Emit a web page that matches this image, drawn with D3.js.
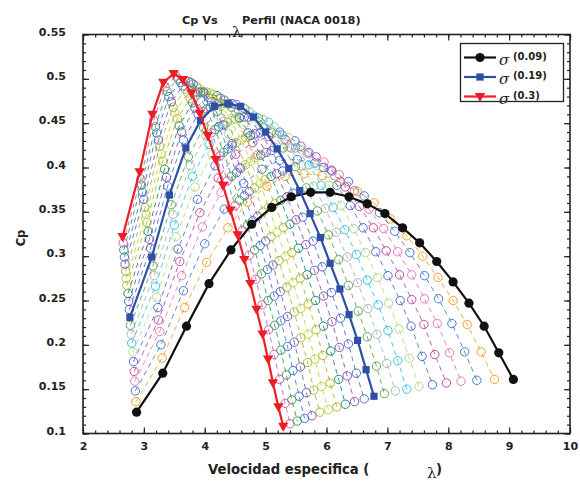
<!DOCTYPE html>
<html><head><meta charset="utf-8">
<script src="https://cdn.jsdelivr.net/npm/d3@7"></script>
<style>body{margin:0;background:#fff}</style>
</head><body>
<svg id="c" width="580" height="484"></svg>
<script>
// ---- data: lambda (tip speed ratio) and Cp for each solidity sigma ----
const sigmaValues = [0.09,0.10,0.11,0.12,0.13,0.14,0.15,0.16,0.17,0.18,0.19,0.20,0.21,0.22,0.23,0.24,0.25,0.26,0.27,0.28,0.29,0.30];
const lam_09 = [2.88,3.31,3.70,4.07,4.43,4.77,5.10,5.42,5.74,6.06,6.37,6.67,6.96,7.25,7.53,7.81,8.08,8.34,8.59,8.83,9.07];
const cp_09  = [0.124,0.168,0.221,0.269,0.307,0.336,0.355,0.367,0.372,0.372,0.367,0.359,0.348,0.332,0.315,0.294,0.271,0.247,0.221,0.191,0.161];
const lam_10 = [2.87,3.30,3.67,4.03,4.38,4.70,5.02,5.32,5.63,5.93,6.22,6.51,6.78,7.05,7.32,7.58,7.83,8.08,8.31,8.54,8.76];
const cp_10  = [0.136,0.185,0.242,0.293,0.332,0.361,0.379,0.390,0.393,0.391,0.384,0.373,0.360,0.342,0.323,0.300,0.276,0.250,0.223,0.192,0.161];
const lam_11 = [2.86,3.28,3.65,4.00,4.32,4.64,4.94,5.23,5.52,5.81,6.09,6.36,6.62,6.87,7.12,7.37,7.61,7.84,8.06,8.27,8.47];
const cp_11  = [0.148,0.200,0.261,0.314,0.353,0.382,0.398,0.408,0.409,0.405,0.396,0.384,0.368,0.349,0.328,0.304,0.278,0.252,0.224,0.192,0.160];
const lam_12 = [2.85,3.26,3.62,3.96,4.27,4.57,4.86,5.14,5.42,5.69,5.96,6.21,6.46,6.70,6.94,7.17,7.40,7.61,7.82,8.02,8.21];
const cp_12  = [0.159,0.215,0.278,0.333,0.372,0.400,0.414,0.423,0.422,0.416,0.406,0.392,0.374,0.353,0.331,0.305,0.279,0.252,0.224,0.191,0.159];
const lam_13 = [2.84,3.24,3.59,3.92,4.22,4.51,4.79,5.05,5.32,5.58,5.83,6.08,6.31,6.54,6.77,6.98,7.20,7.40,7.60,7.78,7.97];
const cp_13  = [0.170,0.228,0.294,0.349,0.388,0.415,0.428,0.435,0.432,0.424,0.412,0.397,0.378,0.356,0.332,0.306,0.279,0.251,0.223,0.189,0.157];
const lam_14 = [2.83,3.23,3.56,3.88,4.17,4.45,4.71,4.97,5.23,5.48,5.71,5.95,6.17,6.39,6.60,6.81,7.01,7.21,7.39,7.57,7.74];
const cp_14  = [0.181,0.242,0.308,0.364,0.402,0.427,0.439,0.445,0.440,0.430,0.417,0.400,0.380,0.357,0.332,0.305,0.278,0.250,0.221,0.187,0.155];
const lam_15 = [2.82,3.21,3.53,3.84,4.12,4.39,4.64,4.89,5.14,5.37,5.60,5.83,6.04,6.24,6.45,6.64,6.84,7.02,7.19,7.36,7.52];
const cp_15  = [0.192,0.254,0.322,0.378,0.415,0.438,0.448,0.452,0.446,0.434,0.420,0.402,0.380,0.357,0.331,0.304,0.276,0.247,0.218,0.185,0.153];
const lam_16 = [2.80,3.19,3.50,3.80,4.07,4.33,4.57,4.81,5.05,5.27,5.49,5.71,5.91,6.11,6.30,6.49,6.67,6.85,7.01,7.17,7.32];
const cp_16  = [0.202,0.266,0.335,0.390,0.426,0.448,0.456,0.458,0.451,0.437,0.422,0.403,0.380,0.355,0.330,0.302,0.273,0.245,0.216,0.182,0.150];
const lam_17 = [2.79,3.17,3.48,3.76,4.02,4.27,4.51,4.73,4.96,5.18,5.39,5.59,5.79,5.98,6.16,6.34,6.51,6.68,6.83,6.99,7.13];
const cp_17  = [0.212,0.278,0.347,0.402,0.436,0.456,0.462,0.463,0.454,0.439,0.423,0.402,0.379,0.354,0.327,0.299,0.270,0.241,0.212,0.179,0.148];
const lam_18 = [2.78,3.15,3.45,3.73,3.98,4.21,4.44,4.66,4.88,5.09,5.29,5.49,5.67,5.85,6.03,6.20,6.36,6.52,6.67,6.82,6.95];
const cp_18  = [0.222,0.289,0.358,0.412,0.445,0.463,0.468,0.466,0.456,0.440,0.422,0.401,0.377,0.351,0.324,0.296,0.267,0.238,0.209,0.176,0.145];
const lam_19 = [2.77,3.13,3.42,3.69,3.93,4.16,4.38,4.59,4.80,5.00,5.19,5.38,5.56,5.73,5.90,6.06,6.22,6.37,6.51,6.65,6.78];
const cp_19  = [0.231,0.299,0.369,0.422,0.453,0.469,0.472,0.469,0.457,0.440,0.421,0.399,0.374,0.348,0.321,0.292,0.263,0.234,0.205,0.172,0.142];
const lam_20 = [2.76,3.11,3.39,3.65,3.89,4.11,4.32,4.52,4.72,4.91,5.10,5.28,5.45,5.61,5.78,5.93,6.08,6.23,6.36,6.49,6.62];
const cp_20  = [0.240,0.309,0.379,0.431,0.460,0.474,0.476,0.471,0.457,0.439,0.419,0.396,0.371,0.344,0.317,0.288,0.259,0.230,0.201,0.168,0.139];
const lam_21 = [2.75,3.09,3.37,3.62,3.84,4.06,4.26,4.45,4.65,4.83,5.01,5.18,5.35,5.50,5.66,5.80,5.95,6.09,6.21,6.34,6.46];
const cp_21  = [0.249,0.319,0.389,0.440,0.467,0.479,0.478,0.472,0.457,0.438,0.417,0.393,0.367,0.341,0.313,0.284,0.255,0.226,0.197,0.165,0.136];
const lam_22 = [2.74,3.07,3.34,3.58,3.80,4.01,4.20,4.39,4.57,4.75,4.92,5.09,5.25,5.40,5.54,5.68,5.82,5.95,6.07,6.20,6.31];
const cp_22  = [0.258,0.328,0.398,0.447,0.473,0.483,0.481,0.472,0.456,0.436,0.414,0.390,0.363,0.336,0.309,0.279,0.250,0.221,0.193,0.161,0.133];
const lam_23 = [2.72,3.05,3.31,3.55,3.76,3.96,4.14,4.32,4.50,4.67,4.83,4.99,5.15,5.29,5.43,5.57,5.70,5.83,5.94,6.06,6.17];
const cp_23  = [0.267,0.338,0.407,0.455,0.478,0.486,0.482,0.472,0.455,0.434,0.411,0.386,0.359,0.332,0.304,0.275,0.246,0.217,0.188,0.157,0.130];
const lam_24 = [2.71,3.04,3.29,3.51,3.72,3.91,4.09,4.26,4.43,4.60,4.75,4.91,5.05,5.19,5.33,5.45,5.58,5.70,5.81,5.92,6.03];
const cp_24  = [0.275,0.347,0.415,0.462,0.484,0.489,0.484,0.472,0.453,0.431,0.407,0.382,0.355,0.327,0.300,0.270,0.241,0.212,0.184,0.153,0.127];
const lam_25 = [2.70,3.02,3.26,3.48,3.68,3.86,4.03,4.20,4.37,4.52,4.67,4.82,4.96,5.09,5.22,5.35,5.47,5.58,5.69,5.79,5.89];
const cp_25  = [0.283,0.355,0.424,0.468,0.488,0.492,0.485,0.471,0.451,0.428,0.403,0.377,0.350,0.322,0.295,0.265,0.237,0.208,0.180,0.149,0.124];
const lam_26 = [2.69,3.00,3.24,3.45,3.64,3.81,3.98,4.14,4.30,4.45,4.59,4.73,4.87,5.00,5.12,5.24,5.36,5.47,5.57,5.67,5.76];
const cp_26  = [0.291,0.364,0.431,0.474,0.492,0.494,0.485,0.469,0.448,0.425,0.399,0.373,0.345,0.317,0.290,0.260,0.232,0.203,0.175,0.146,0.120];
const lam_27 = [2.68,2.98,3.21,3.41,3.60,3.77,3.93,4.09,4.23,4.38,4.52,4.65,4.79,4.91,5.03,5.14,5.25,5.36,5.45,5.55,5.64];
const cp_27  = [0.299,0.372,0.439,0.480,0.496,0.496,0.485,0.468,0.446,0.421,0.394,0.368,0.340,0.312,0.285,0.255,0.227,0.198,0.171,0.142,0.117];
const lam_28 = [2.67,2.96,3.19,3.38,3.56,3.73,3.88,4.03,4.17,4.31,4.44,4.57,4.70,4.82,4.93,5.04,5.15,5.25,5.34,5.43,5.52];
const cp_28  = [0.307,0.380,0.446,0.486,0.500,0.497,0.485,0.466,0.443,0.417,0.390,0.363,0.335,0.307,0.280,0.250,0.222,0.194,0.166,0.138,0.114];
const lam_29 = [2.66,2.95,3.16,3.35,3.53,3.68,3.83,3.97,4.11,4.25,4.37,4.50,4.62,4.73,4.84,4.94,5.05,5.14,5.23,5.32,5.40];
const cp_29  = [0.315,0.387,0.453,0.491,0.503,0.498,0.485,0.463,0.439,0.413,0.385,0.357,0.329,0.301,0.274,0.245,0.217,0.189,0.161,0.134,0.111];
const lam_30 = [2.65,2.93,3.14,3.32,3.49,3.64,3.78,3.92,4.05,4.18,4.30,4.42,4.54,4.65,4.75,4.85,4.95,5.04,5.12,5.21,5.29];
const cp_30  = [0.322,0.395,0.460,0.496,0.506,0.499,0.484,0.461,0.436,0.409,0.380,0.352,0.324,0.296,0.269,0.240,0.212,0.184,0.157,0.130,0.108];

const familyColors = ["#f5a02a","#4a7bd0","#e67ab8","#c04c9e","#4e6fcf","#b8da8c","#3dc2e6","#a9b5b2","#5aaa4e",
                      "#4a6fd0","#8a55b0","#1b8a73","#b6b429","#c2d146","#9fbf3a","#7b5fb8","#3f7ad0","#3a9f4a","#d05fb2"];
const legendLabels = ["(0.09)","(0.19)","(0.3)"];
const xTickValues = [2,3,4,5,6,7,8,9,10];
const yTickValues = [0.1,0.15,0.2,0.25,0.3,0.35,0.4,0.45,0.5,0.55];
const yTickLabels = ["0.1","0.15","0.2","0.25","0.3","0.35","0.4","0.45","0.5","0.55"];

// ---- drawing ----
const svg = d3.select("#c");
const x = d3.scaleLinear().domain([2,10]).range([83,570]);
const y = d3.scaleLinear().domain([0.1,0.55]).range([433.5,34.5]);
const line = d3.line().x(d=>x(d[0])).y(d=>y(d[1]));
const FONT = "'DejaVu Sans', Verdana, sans-serif";

const allLam = {0.09:lam_09,0.10:lam_10,0.11:lam_11,0.12:lam_12,0.13:lam_13,0.14:lam_14,0.15:lam_15,0.16:lam_16,0.17:lam_17,0.18:lam_18,0.19:lam_19,0.20:lam_20,0.21:lam_21,0.22:lam_22,0.23:lam_23,0.24:lam_24,0.25:lam_25,0.26:lam_26,0.27:lam_27,0.28:lam_28,0.29:lam_29,0.30:lam_30};
const allCp  = {0.09:cp_09,0.10:cp_10,0.11:cp_11,0.12:cp_12,0.13:cp_13,0.14:cp_14,0.15:cp_15,0.16:cp_16,0.17:cp_17,0.18:cp_18,0.19:cp_19,0.20:cp_20,0.21:cp_21,0.22:cp_22,0.23:cp_23,0.24:cp_24,0.25:cp_25,0.26:cp_26,0.27:cp_27,0.28:cp_28,0.29:cp_29,0.30:cp_30};
const pts = s => allLam[s].map((l,i)=>[l, allCp[s][i]]);

// intermediate family (dashed + open circles)
const famSig = sigmaValues.filter(s => s!==0.09 && s!==0.19 && s!==0.30);
const gFam = svg.append("g");
famSig.forEach((s,i) => {
  const col = familyColors[i];
  const p = pts(s);
  gFam.append("path").attr("d", line(p)).attr("fill","none").attr("stroke",col)
      .attr("stroke-width",0.9).attr("stroke-dasharray","5,4");
  gFam.append("g").selectAll("circle").data(p).join("circle")
      .attr("cx",d=>x(d[0])).attr("cy",d=>y(d[1])).attr("r",4.2)
      .attr("fill","none").attr("stroke",col).attr("stroke-width",1);
});

// main series
const mains = [
  {s:0.09, color:"#111111", marker:"circle"},
  {s:0.19, color:"#2f4ea5", marker:"square"},
  {s:0.30, color:"#ee1c24", marker:"tri"}
];
function drawMarker(g, type, cx, cy, col){
  if(type==="circle") g.append("circle").attr("cx",cx).attr("cy",cy).attr("r",4.6).attr("fill",col);
  else if(type==="square") g.append("rect").attr("x",cx-3.6).attr("y",cy-3.6).attr("width",7.2).attr("height",7.2).attr("fill",col);
  else g.append("path").attr("d",`M${cx-5.2},${cy-3.6}L${cx+5.2},${cy-3.6}L${cx},${cy+5.4}Z`).attr("fill",col);
}
mains.forEach(m => {
  const p = pts(m.s);
  const g = svg.append("g");
  g.append("path").attr("d", line(p)).attr("fill","none").attr("stroke",m.color).attr("stroke-width",2.2);
  p.forEach(d => drawMarker(g, m.marker, x(d[0]), y(d[1]), m.color));
});

// frame
svg.append("rect").attr("x",83).attr("y",34.5).attr("width",487).attr("height",399)
   .attr("fill","none").attr("stroke","#222").attr("stroke-width",1.6);

// axes (ticks pointing inward)
function clean(g){ g.select(".domain").remove(); g.selectAll("line").attr("stroke","#222").attr("stroke-width",1.2); }
const xMinor = d3.range(0,41).map(i=>2+i*0.2);
const yMinor = d3.range(0,46).map(i=>0.1+i*0.01);
svg.append("g").attr("transform","translate(0,433.5)").call(d3.axisBottom(x).tickValues(xMinor).tickSize(-3).tickFormat("")).call(clean);
svg.append("g").attr("transform","translate(0,34.5)").call(d3.axisTop(x).tickValues(xMinor).tickSize(-3).tickFormat("")).call(clean);
svg.append("g").attr("transform","translate(83,0)").call(d3.axisLeft(y).tickValues(yMinor).tickSize(-3).tickFormat("")).call(clean);
svg.append("g").attr("transform","translate(570,0)").call(d3.axisRight(y).tickValues(yMinor).tickSize(-3).tickFormat("")).call(clean);

const gxB = svg.append("g").attr("transform","translate(0,433.5)")
  .call(d3.axisBottom(x).tickValues(xTickValues).tickSize(-6).tickPadding(8.5).tickFormat(d3.format("d"))).call(clean);
svg.append("g").attr("transform","translate(0,34.5)").call(d3.axisTop(x).tickValues(xTickValues).tickSize(-6).tickFormat("")).call(clean);
const gyL = svg.append("g").attr("transform","translate(83,0)")
  .call(d3.axisLeft(y).tickValues(yTickValues).tickSize(-6).tickPadding(17).tickFormat((d,i)=>yTickLabels[i])).call(clean);
svg.append("g").attr("transform","translate(570,0)").call(d3.axisRight(y).tickValues(yTickValues).tickSize(-6).tickFormat("")).call(clean);
[gxB, gyL].forEach(g => g.selectAll("text").attr("font-family",FONT).attr("font-weight","bold").attr("font-size",11).attr("fill","#222"));
gyL.selectAll("text").attr("dy","0.05em");

// title
const T = svg.append("g").attr("font-family",FONT).attr("font-weight","bold").attr("fill","#222");
T.append("text").attr("x",182).attr("y",23.5).attr("font-size",11.3).text("Cp Vs");
T.append("text").attr("x",232).attr("y",37).attr("font-size",15).attr("font-weight","normal")
  .attr("font-family","'DejaVu Serif', serif").text("λ");
T.append("text").attr("x",242).attr("y",23.5).attr("font-size",11.3).text("Perfil (NACA 0018)");

// axis titles
T.append("text").attr("x",208).attr("y",474).attr("font-size",13.2).text("Velocidad especifica (");
T.append("text").attr("x",427).attr("y",478).attr("font-size",15).attr("font-weight","normal")
  .attr("font-family","'DejaVu Serif', serif").text("λ");
T.append("text").attr("x",436).attr("y",474).attr("font-size",13.2).text(")");
T.append("text").attr("transform","translate(25,238) rotate(-90)").attr("text-anchor","middle")
  .attr("font-size",11.5).text("Cp");

// legend
const L = svg.append("g");
L.append("rect").attr("x",460.5).attr("y",43.5).attr("width",103).attr("height",58)
  .attr("fill","#fff").attr("stroke","#222").attr("stroke-width",1.3);
mains.forEach((m,i) => {
  const ly = 57.5 + i*19.5;
  L.append("line").attr("x1",464).attr("x2",496).attr("y1",ly).attr("y2",ly).attr("stroke",m.color).attr("stroke-width",2.2);
  drawMarker(L, m.marker, 480, ly, m.color);
  L.append("text").attr("x",499).attr("y",ly+7).attr("font-family","'DejaVu Serif', serif").attr("font-style","italic")
    .attr("font-size",15).attr("fill","#222").text("σ");
  L.append("text").attr("x",513).attr("y",ly+2).attr("font-family",FONT).attr("font-weight","bold")
    .attr("font-size",10).attr("fill","#222").text(legendLabels[i]);
});
</script>
</body></html>
